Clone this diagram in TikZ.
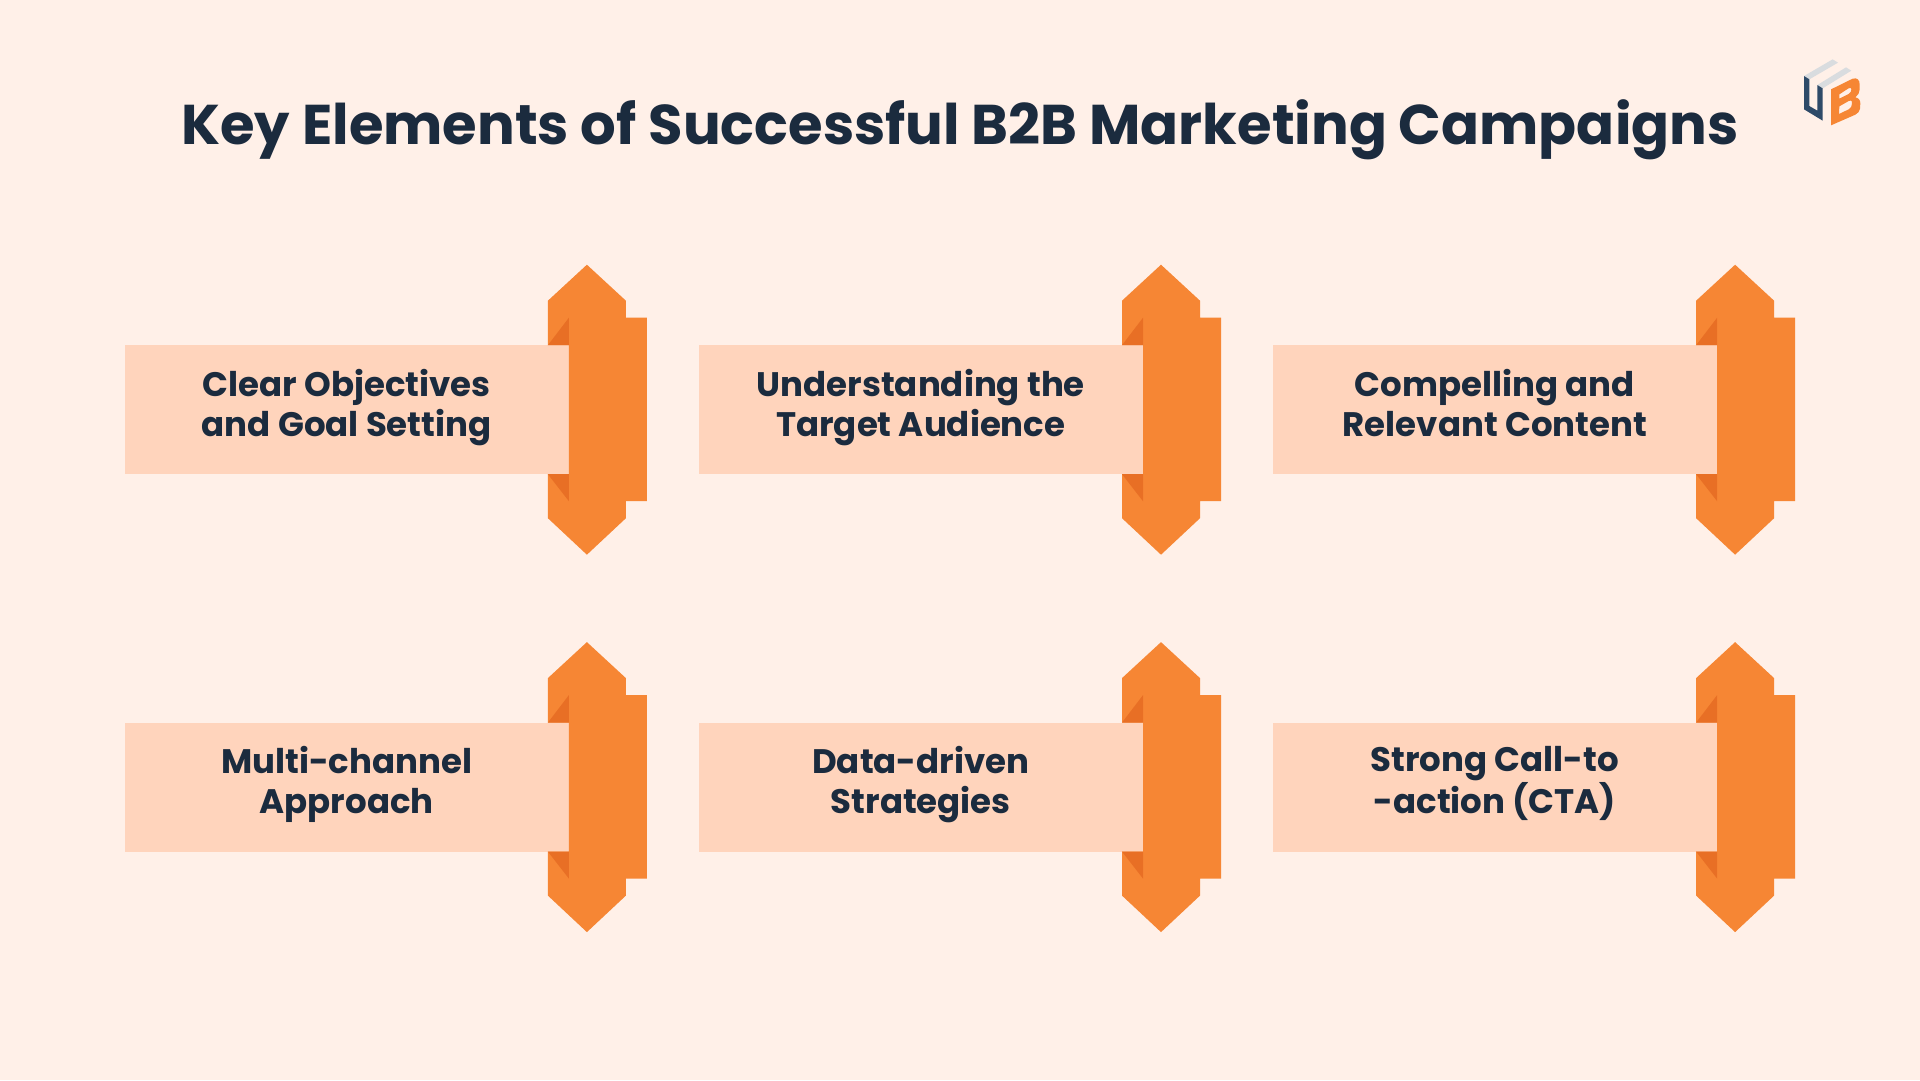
\documentclass[tikz,border=0pt]{standalone}
\usepackage{fontspec}
\setmainfont{Poppins}
\usepackage{tikz}
\usetikzlibrary{positioning}
\usepackage{xcolor}
\definecolor{pagebg}{HTML}{FFF0E8}
\definecolor{boxbg}{HTML}{FFD4BC}
\definecolor{ribbonfg}{HTML}{F68634}
\definecolor{ribbonfold}{HTML}{E86F25}
\definecolor{inktext}{HTML}{1B2B3E}
\definecolor{logoblue}{HTML}{2E4A68}
\definecolor{logogrey}{HTML}{D9DCDF}

\begin{document}
\begin{tikzpicture}[
x=1pt, y=-1pt,
node distance=248pt and 129.7pt,
box/.style={fill=boxbg,
text=inktext,
minimum width=444pt,
minimum height=129pt,
inner sep=0pt,
align=center,
font=\bfseries\fontsize{34}{40}\selectfont,
execute at begin node=\strut,
execute at end node=\rule[-14pt]{0pt}{14pt}},
ribbon/.pic={
\fill[ribbonfg] (-21,-109) -- (18,-145) -- (57,-109) -- (57,-92) -- (78,-92) -- (78,91.5) -- (57,91.5) -- (57,108.5) -- (18,145) -- (-21,108.5) -- (-21,64.5) -- (0,64.5) -- (0,-64.5) -- (-21,-64.5) -- cycle;
\fill[ribbonfold] (-21,-64.5) -- (0,-92) -- (0,-64.5) -- cycle;
\fill[ribbonfold] (-21,64.5) -- (0,91.5) -- (0,64.5) -- cycle;
}
]

\fill[pagebg] (0,0) rectangle (1920,1080);
\useasboundingbox (0,0) rectangle (1920,1080);

\node[text=inktext, font=\bfseries\fontsize{56}{64}\selectfont] (title) at (960,129.5) {Key Elements of Successful B2B Marketing Campaigns};

\node[box, anchor=north west] (goals) at (124.5,345) {Clear Objectives\\and Goal Setting};
\node[box, right=of goals] (audience) {Understanding the\\Target Audience};
\node[box, right=of audience] (content) {Compelling and\\Relevant Content};
\node[box, below=of goals] (channel) {Multi-channel\\Approach};
\node[box, right=of channel] (data) {Data-driven\\Strategies};
\node[box, right=of data] (cta) {Strong Call-to\\-action (CTA)};

\pic at (goals.east) {ribbon};
\pic at (audience.east) {ribbon};
\pic at (content.east) {ribbon};
\pic at (channel.east) {ribbon};
\pic at (data.east) {ribbon};
\pic at (cta.east) {ribbon};

% logo
\begin{scope}[shift={(1760,40)}, scale=1/3]
\fill[logogrey] (132,108) -- (218,58) -- (234,68) -- (148,118) -- cycle;
\fill[logogrey] (172,135) -- (258,82) -- (274,92) -- (188,145) -- cycle;
\fill[logoblue] (132,108) -- (148,118) -- (148,198) -- (172,212) -- (172,135) -- (188,145) -- (188,242) -- (132,208) -- cycle;
\fill[ribbonfg, even odd rule] (213,148) -- (278,116) .. controls (292,112) and (299,120) .. (299,134) -- (299,148) .. controls (299,158) and (294,166) .. (286,172) .. controls (296,174) and (301,180) .. (301,190) -- (300,206) .. controls (299,214) and (294,220) .. (286,224) -- (213,256) -- cycle
(238,163) -- (238,176) -- (266,162) .. controls (272,158) and (274,153) .. (274,148) .. controls (274,142) and (270,142) .. (264,146) -- cycle
(238,199) -- (237,222) -- (266,208) .. controls (273,204) and (276,198) .. (276,190) .. controls (276,181) and (272,179) .. (266,183) -- cycle;
\end{scope}

\end{tikzpicture}
\end{document}
